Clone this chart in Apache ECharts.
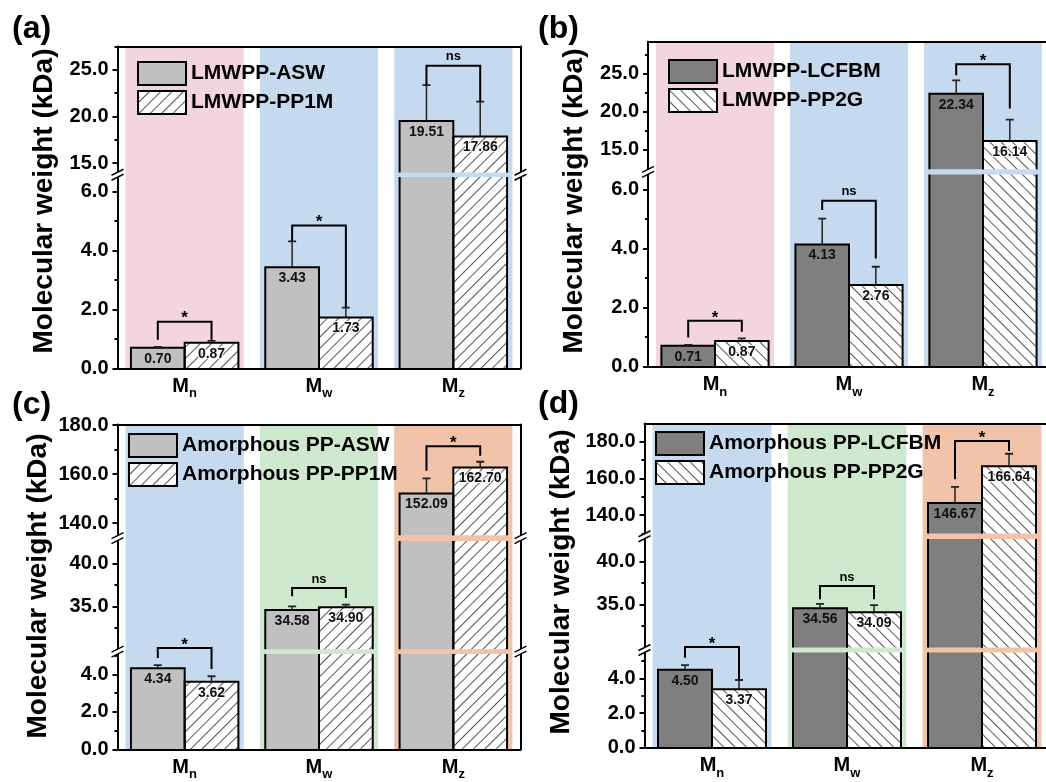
<!DOCTYPE html>
<html><head><meta charset="utf-8">
<script src="https://cdn.jsdelivr.net/npm/echarts@6/dist/echarts.min.js"></script>
<style>html,body{margin:0;padding:0;background:#fff}#c{width:1046px;height:782px}</style>
</head><body><div id="c"></div>
<script>
const categories = ['n', 'w', 'z'];

// ---- panel (a)
const aSeriesNames = ['LMWPP-ASW', 'LMWPP-PP1M'];
const aValues1 = [0.70, 3.43, 19.51];
const aValues2 = [0.87, 1.73, 17.86];
const aErrTop1 = [0.73, 4.31, 23.36];
const aErrTop2 = [0.93, 2.06, 21.60];
const aSigText = ['*', '*', 'ns'];
const aSigLevel = [1.58, 4.85, 25.43];
const aSigLeg1 = [0.97, 4.31, 23.36];
const aSigLeg2 = [0.95, 2.06, 21.60];
const aTicksUpper = [15, 20, 25];
const aMinorUpper = [17.5, 22.5, 27.5];
const aTicksLower = [0, 2, 4, 6];
const aMinorLower = [1, 3, 5];

// ---- panel (b)
const bSeriesNames = ['LMWPP-LCFBM', 'LMWPP-PP2G'];
const bValues1 = [0.71, 4.13, 22.34];
const bValues2 = [0.87, 2.76, 16.14];
const bErrTop1 = [0.74, 5.01, 24.10];
const bErrTop2 = [0.96, 3.38, 18.95];
const bSigText = ['*', 'ns', '*'];
const bSigLevel = [1.55, 5.61, 26.22];
const bSigLeg1 = [0.99, 5.30, 24.78];
const bSigLeg2 = [1.18, 3.66, 20.40];
const bTicksUpper = [15, 20, 25];
const bMinorUpper = [17.5, 22.5, 27.5];
const bTicksLower = [0, 2, 4, 6];
const bMinorLower = [1, 3, 5];

// ---- panel (c)
const cSeriesNames = ['Amorphous PP-ASW', 'Amorphous PP-PP1M'];
const cValues1 = [4.34, 34.58, 152.09];
const cValues2 = [3.62, 34.90, 162.70];
const cErrTop1 = [4.50, 35.00, 158.2];
const cErrTop2 = [3.91, 35.20, 165.0];
const cSigText = ['*', 'ns', '*'];
const cSigLevel = [5.42, 37.13, 171.3];
const cSigLeg1 = [4.89, 36.16, 161.3];
const cSigLeg2 = [4.30, 35.97, 167.5];
const cTicksUpper = [140, 160, 180];
const cMinorUpper = [150, 170];
const cTicksMiddle = [35, 40];
const cMinorMiddle = [32.5, 37.5];
const cTicksLower = [0, 2, 4];
const cMinorLower = [1, 3, 5];

// ---- panel (d)
const dSeriesNames = ['Amorphous PP-LCFBM', 'Amorphous PP-PP2G'];
const dValues1 = [4.50, 34.56, 146.67];
const dValues2 = [3.37, 34.09, 166.64];
const dErrTop1 = [4.77, 35.07, 155.4];
const dErrTop2 = [3.91, 34.92, 173.5];
const dSigText = ['*', 'ns', '*'];
const dSigLevel = [5.82, 37.14, 180.5];
const dSigLeg1 = [5.20, 35.60, 159.6];
const dSigLeg2 = [3.95, 35.60, 175.0];
const dTicksUpper = [140, 160, 180];
const dMinorUpper = [130, 150, 170];
const dTicksMiddle = [35, 40];
const dMinorMiddle = [32.5, 37.5];
const dTicksLower = [0, 2, 4];
const dMinorLower = [1, 3, 5];

const FONT = '"Liberation Sans", Arial, sans-serif';
const PINK = '#f2d5de', BLUE = '#c6daef', GREEN = '#cfe9cf', SALMON = '#f1c4aa';

const panels = [
  { names: aSeriesNames, v1: aValues1, v2: aValues2, e1: aErrTop1, e2: aErrTop2,
    sig: aSigText, sigY: aSigLevel, leg1: aSigLeg1, leg2: aSigLeg2,
    fill: '#c0c0c0', hatchRot: -Math.PI / 4, bands: [PINK, BLUE, BLUE],
    left: 117.5, width: 403, top: 46.5, bottom: 368.3, rightFrame: true,
    segs: [
      { min: 14, max: 27.5, top: 46.5, bottom: 172.5, major: aTicksUpper, minor: aMinorUpper },
      { min: 0, max: 6.5, top: 177, bottom: 368.3, major: aTicksLower, minor: aMinorLower }
    ],
    legend: { left: 137, top: 61 }, tag: { text: '(a)', x: 12, y: 13 }, title: { x: 44, y: 201 } },
  { names: bSeriesNames, v1: bValues1, v2: bValues2, e1: bErrTop1, e2: bErrTop2,
    sig: bSigText, sigY: bSigLevel, leg1: bSigLeg1, leg2: bSigLeg2,
    fill: '#7f7f7f', hatchRot: Math.PI / 4, bands: [PINK, BLUE, BLUE],
    left: 648, width: 402, top: 41.7, bottom: 366.7, rightFrame: false,
    segs: [
      { min: 12.4, max: 29.2, top: 41.7, bottom: 169.3, major: bTicksUpper, minor: bMinorUpper },
      { min: 0, max: 6.5, top: 174.5, bottom: 366.7, major: bTicksLower, minor: bMinorLower }
    ],
    legend: { left: 668, top: 59 }, tag: { text: '(b)', x: 538, y: 13 }, title: { x: 574, y: 201 } },
  { names: cSeriesNames, v1: cValues1, v2: cValues2, e1: cErrTop1, e2: cErrTop2,
    sig: cSigText, sigY: cSigLevel, leg1: cSigLeg1, leg2: cSigLeg2,
    fill: '#c0c0c0', hatchRot: -Math.PI / 4, bands: [BLUE, GREEN, SALMON],
    left: 117.5, width: 403, top: 424.5, bottom: 749.3, rightFrame: true,
    segs: [
      { min: 135, max: 180, top: 425, bottom: 535.3, major: cTicksUpper, minor: cMinorUpper },
      { min: 30, max: 42.6, top: 541, bottom: 649.3, major: cTicksMiddle, minor: cMinorMiddle },
      { min: 0, max: 5.1, top: 654, bottom: 749.3, major: cTicksLower, minor: cMinorLower }
    ],
    legend: { left: 128, top: 433 }, tag: { text: '(c)', x: 12, y: 389 }, title: { x: 38, y: 586 } },
  { names: dSeriesNames, v1: dValues1, v2: dValues2, e1: dErrTop1, e2: dErrTop2,
    sig: dSigText, sigY: dSigLevel, leg1: dSigLeg1, leg2: dSigLeg2,
    fill: '#7f7f7f', hatchRot: Math.PI / 4, bands: [BLUE, GREEN, SALMON],
    left: 644.5, width: 405, top: 423.5, bottom: 747.7, rightFrame: false,
    segs: [
      { min: 130, max: 190, top: 423.5, bottom: 533.5, major: dTicksUpper, minor: dMinorUpper },
      { min: 30, max: 42.6, top: 539, bottom: 647.5, major: dTicksMiddle, minor: dMinorMiddle },
      { min: 0, max: 5.5, top: 652.5, bottom: 747.7, major: dTicksLower, minor: dMinorLower }
    ],
    legend: { left: 655, top: 431 }, tag: { text: '(d)', x: 538, y: 388 }, title: { x: 561, y: 582 } }
];

function hatch(rot) {
  return { symbol: 'rect', symbolSize: 1, dashArrayX: [1, 0], dashArrayY: [0.7, 6.5], rotation: rot, color: '#555' };
}

function outlineRender(params, api) {
  const i = api.value(0), v = api.value(1), s = api.value(2);
  const bw = api.size([1, 0])[0];
  const xc = api.coord([i, 0])[0];
  const xL = xc + (s === 0 ? -0.4 : 0) * bw, xR = xL + 0.4 * bw;
  const yT = api.coord([i, v])[1], yB = api.coord([i, 0])[1];
  return { type: 'polyline', shape: { points: [[xL, yB], [xL, yT], [xR, yT], [xR, yB]] },
    style: { stroke: '#000', lineWidth: 2, fill: 'none' } };
}
function errRender(params, api) {
  const i = api.value(0), s = api.value(3);
  const bw = api.size([1, 0])[0];
  const x = api.coord([i, 0])[0] + (s === 0 ? -0.2 : 0.2) * bw;
  const y0 = api.coord([i, api.value(1)])[1], y1 = api.coord([i, api.value(2)])[1];
  return { type: 'group', children: [
    { type: 'line', shape: { x1: x, y1: y0, x2: x, y2: y1 }, style: { stroke: '#222', lineWidth: 1.5 } },
    { type: 'line', shape: { x1: x - 4, y1: y1, x2: x + 4, y2: y1 }, style: { stroke: '#222', lineWidth: 1.8 } }
  ] };
}
function makeBracketRender(texts) {
  return function (params, api) {
    const i = api.value(0);
    const yb = api.coord([i, api.value(1)])[1];
    const y1 = api.coord([i, api.value(2)])[1];
    const y2 = api.coord([i, api.value(3)])[1];
    const bw = api.size([1, 0])[0];
    const xc = api.coord([i, 0])[0];
    const xl = xc - 0.2 * bw, xr = xc + 0.2 * bw;
    const t = texts[params.dataIndex];
    const isStar = t === '*';
    return { type: 'group', children: [
      { type: 'polyline', shape: { points: [[xl, y1], [xl, yb], [xr, yb], [xr, y2]] },
        style: { stroke: '#000', lineWidth: 2, fill: 'none' } },
      { type: 'text', x: xc, y: isStar ? yb - 3 : yb - 9,
        style: { text: t, font: (isStar ? 'bold 17px ' : 'bold 13px ') + FONT, fill: '#000',
          align: 'center', verticalAlign: 'middle', textAlign: 'center', textVerticalAlign: 'middle' } }
    ] };
  };
}

const grids = [], xAxes = [], yAxes = [], series = [], legends = [], graphics = [];
const axisBlack = { color: '#000', width: 2 };

panels.forEach((p) => {
  const bg = grids.length;
  grids.push({ left: p.left, top: p.top, width: p.width, height: p.bottom - p.top, outerBoundsMode: 'none', containLabel: false });
  const bgX = xAxes.length;
  xAxes.push({ gridIndex: bg, type: 'category', data: categories, position: 'top', z: 5,
    axisLine: { show: true, onZero: false, lineStyle: axisBlack }, axisTick: { show: false },
    axisLabel: { show: false }, splitLine: { show: false } });
  const bgY = yAxes.length;
  yAxes.push({ gridIndex: bg, type: 'value', min: 0, max: 1, position: 'left', z: 5,
    axisLine: { show: true, onZero: false, lineStyle: axisBlack }, axisTick: { show: false },
    axisLabel: { show: false }, splitLine: { show: false } });
  yAxes.push({ gridIndex: bg, type: 'value', min: 0, max: 1, position: 'right', z: 5,
    axisLine: { show: p.rightFrame, onZero: false, lineStyle: axisBlack }, axisTick: { show: false },
    axisLabel: { show: false }, splitLine: { show: false } });
  series.push({ type: 'bar', xAxisIndex: bgX, yAxisIndex: bgY, barWidth: '88%', silent: true, z: 0,
    data: p.bands.map(c => ({ value: 1, itemStyle: { color: c } })) });

  const segIndexOf = v => {
    for (let k = 0; k < p.segs.length; k++) if (v >= p.segs[k].min && v <= p.segs[k].max) return k;
    return -1;
  };

  p.segs.forEach((s, si) => {
    const g = grids.length;
    const isLowest = si === p.segs.length - 1;
    grids.push({ left: p.left, top: s.top, width: p.width, height: s.bottom - s.top, outerBoundsMode: 'none', containLabel: false });
    const xi = xAxes.length;
    xAxes.push({ gridIndex: g, type: 'category', data: categories, position: 'bottom', show: isLowest, z: 6,
      axisLine: { onZero: false, lineStyle: axisBlack },
      axisTick: { alignWithLabel: true, length: 5, lineStyle: axisBlack },
      axisLabel: { margin: 8, formatter: v => `{m|M}{s|${v}}`,
        rich: { m: { fontSize: 20, fontWeight: 'bold', color: '#000', fontFamily: FONT, lineHeight: 24, verticalAlign: 'top' },
                s: { fontSize: 13, fontWeight: 'bold', color: '#000', fontFamily: FONT, lineHeight: 13, verticalAlign: 'bottom' } } },
      splitLine: { show: false } });
    if (isLowest) {
      xAxes.push({ gridIndex: g, type: 'category', data: categories, position: 'bottom', z: 6,
        axisLine: { show: false, onZero: false }, axisTick: { length: 3, lineStyle: { color: '#000', width: 1.5 } },
        axisLabel: { show: false }, splitLine: { show: false } });
    }
    const yi = yAxes.length;
    yAxes.push({ gridIndex: g, type: 'value', min: s.min, max: s.max, position: 'left', z: 6,
      axisLine: { show: false }, splitLine: { show: false },
      axisTick: { show: true, customValues: s.major, length: 5, lineStyle: axisBlack },
      axisLabel: { show: true, customValues: s.major, formatter: v => Number(v).toFixed(1), margin: 9,
        color: '#000', fontSize: 20, fontWeight: 'bold', fontFamily: FONT } });
    yAxes.push({ gridIndex: g, type: 'value', min: s.min, max: s.max, position: 'left', z: 6,
      axisLine: { show: false }, splitLine: { show: false },
      axisTick: { show: true, customValues: s.minor, length: 3, lineStyle: axisBlack },
      axisLabel: { show: false } });

    const inSeg = v => v >= s.min && v <= s.max;
    [p.v1, p.v2].forEach((vals, k) => {
      series.push({ type: 'bar', name: p.names[k], xAxisIndex: xi, yAxisIndex: yi,
        barWidth: '40%', barGap: '0%', z: 2,
        itemStyle: k === 0 ? { color: p.fill, borderWidth: 0 } : { color: '#fff', borderWidth: 0, decal: hatch(p.hatchRot) },
        label: Object.assign({ show: false, position: 'insideTop', distance: 4, color: '#111', fontSize: 14, fontWeight: 'bold',
          fontFamily: FONT, formatter: d => Number(d.value).toFixed(2) },
          k === 1 ? { textBorderColor: 'rgba(255,255,255,0.85)', textBorderWidth: 2 } : {}),
        data: vals.map(v => ({ value: v, label: { show: inSeg(v) } })) });
    });

    const outlineData = [];
    categories.forEach((c, i) => { outlineData.push([i, p.v1[i], 0]); outlineData.push([i, p.v2[i], 1]); });
    series.push({ type: 'custom', xAxisIndex: xi, yAxisIndex: yi, clip: true, silent: true, z: 3,
      renderItem: outlineRender, data: outlineData });

    const errData = [];
    categories.forEach((c, i) => {
      if (inSeg(p.e1[i])) errData.push([i, p.v1[i], p.e1[i], 0]);
      if (inSeg(p.e2[i])) errData.push([i, p.v2[i], p.e2[i], 1]);
    });
    series.push({ type: 'custom', xAxisIndex: xi, yAxisIndex: yi, clip: true, silent: true, z: 4,
      renderItem: errRender, data: errData });

    const brData = [], brText = [];
    categories.forEach((c, i) => {
      if (segIndexOf(p.leg1[i]) === si) { brData.push([i, p.sigY[i], p.leg1[i], p.leg2[i]]); brText.push(p.sig[i]); }
    });
    if (brData.length) {
      series.push({ type: 'custom', xAxisIndex: xi, yAxisIndex: yi, clip: false, silent: true, z: 4,
        renderItem: makeBracketRender(brText), data: brData });
    }
  });

  legends.push({ orient: 'vertical', left: p.legend.left, top: p.legend.top, padding: 0,
    itemWidth: 48, itemHeight: 23, itemGap: 4, icon: 'rect', selectedMode: false, data: p.names,
    textStyle: { fontSize: 21, fontWeight: 'bold', color: '#000', fontFamily: FONT },
    itemStyle: { borderColor: '#000', borderWidth: 2 } });

  graphics.push({ type: 'text', x: p.tag.x, y: p.tag.y, z: 100,
    style: { text: p.tag.text, font: 'bold 32px ' + FONT, fill: '#000', align: 'left', verticalAlign: 'top',
      textAlign: 'left', textVerticalAlign: 'top' } });
  graphics.push({ type: 'text', x: p.title.x, y: p.title.y, rotation: Math.PI / 2, z: 100,
    style: { text: 'Molecular weight (kDa)', font: 'bold 28px ' + FONT, fill: '#000',
      align: 'center', verticalAlign: 'middle', textAlign: 'center', textVerticalAlign: 'middle' } });

  const xs = [p.left];
  if (p.rightFrame) xs.push(p.left + p.width);
  for (let k = 0; k < p.segs.length - 1; k++) {
    const yc = (p.segs[k].bottom + p.segs[k + 1].top) / 2;
    xs.forEach(x => {
      graphics.push({ type: 'polygon', z: 100, shape: { points: [[x - 6, yc + 0.5], [x + 6, yc - 5.5], [x + 6, yc - 0.5], [x - 6, yc + 5.5]] },
        style: { fill: '#fff' } });
      graphics.push({ type: 'line', z: 101, shape: { x1: x - 6, y1: yc + 0.5, x2: x + 6, y2: yc - 5.5 }, style: { stroke: '#000', lineWidth: 1.5 } });
      graphics.push({ type: 'line', z: 101, shape: { x1: x - 6, y1: yc + 5.5, x2: x + 6, y2: yc - 0.5 }, style: { stroke: '#000', lineWidth: 1.5 } });
    });
  }
});

const chart = echarts.init(document.getElementById('c'), null, { renderer: 'canvas' });
chart.setOption({
  animation: false,
  backgroundColor: '#fff',
  grid: grids, xAxis: xAxes, yAxis: yAxes, series: series, legend: legends,
  graphic: { elements: graphics }
});
</script>
</body></html>
